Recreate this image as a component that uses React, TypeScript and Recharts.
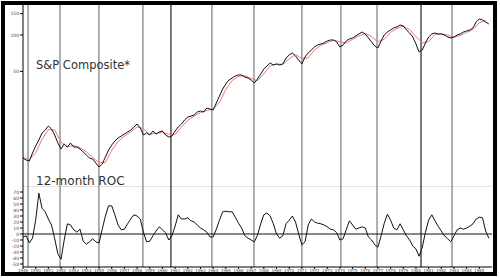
import React from 'react';
import { LineChart, Line, XAxis, YAxis, ReferenceLine } from 'recharts';

const START_YEAR = 1949;
const END_YEAR = 1986;

// S&P Composite, quarterly readings (log scale panel)
const priceIndex = [
  9.6, 9.25, 9.07, 10.56, 12.07, 13.53, 15.46, 16.37, 17.67, 16.69,
  14.89, 12.78, 11.4, 12.54, 11.84, 12.78, 11.84, 11.84, 11.4, 10.77,
  10.17, 9.6, 9.42, 8.73, 8.09, 8.57, 9.79, 11.19, 12.3, 13.28,
  14.06, 14.6, 15.17, 15.76, 16.37, 17.34, 18.36, 17.01, 14.89, 15.46,
  14.89, 16.06, 15.17, 15.76, 16.06, 14.89, 14.33, 14.6, 16.06, 17.34,
  18.36, 19.81, 20.97, 21.37, 21.79, 23.07, 23.51, 23.07, 24.9, 24.42,
  23.97, 27.39, 31.29, 35.75, 39.33, 42.44, 44.09, 45.8, 46.68, 46.68,
  44.93, 44.09, 42.44, 40.08, 43.26, 47.57, 52.33, 55.41, 58.66, 56.47,
  57.57, 56.47, 57.57, 64.53, 68.32, 70.97, 67.03, 62.11, 57.57, 65.77,
  70.97, 75.15, 79.56, 82.66, 84.25, 85.89, 89.22, 90.92, 90.92, 87.52,
  79.56, 82.66, 89.22, 92.66, 94.45, 98.12, 101.9, 105.9, 101.9, 94.45,
  87.52, 81.1, 78.06, 89.22, 100, 105.9, 110, 114.3, 116.5, 121,
  118.7, 110, 103.9, 96.26, 84.25, 72.33, 75.15, 85.89, 96.26, 101.9,
  103.9, 101.9, 101.9, 100, 96.26, 94.45, 96.26, 100, 101.9, 105.9,
  107.9, 110, 114.3, 128.1, 135.6, 133.1, 128.1, 123.3,
];

// Red moving average, read every second quarter
const movingAvg = [
  9.7, 9.3, 10.6, 13.7, 16.5, 16.4, 13.0, 11.9, 12.2, 11.7,
  10.8, 9.7, 8.8, 8.8, 11.1, 13.2, 14.6, 15.8, 17.4, 16.8,
  15.1, 15.4, 15.7, 15.1, 15.0, 17.3, 19.7, 21.4, 22.8, 23.8,
  24.4, 27.6, 35.5, 42.0, 45.5, 46.1, 43.8, 41.9, 47.7, 55.5,
  57.6, 57.2, 63.5, 68.8, 64.0, 64.8, 75.2, 82.2, 86.5, 90.4,
  88.0, 85.5, 92.1, 98.2, 103.2, 97.0, 88.0, 92.0, 105.3, 113.6,
  118.7, 110.9, 97.0, 86.0, 88.0, 100.7, 102.6, 99.4, 95.7, 99.4,
  105.2, 110.7, 126.0, 132.3,
];

// 12-month rate of change (%)
const roc12 = [
  -5, -3, -15, -7, 23, 68, 43, 37, 25, 15,
  -8, -33, -42, -10, 17, 15, 7, 3, 8, -12,
  -17, -13, -8, -13, -15, 8, 30, 47, 47, 32,
  15, 7, 8, 17, 25, 32, 30, 25, 3, -13,
  -12, -3, 5, 12, 7, 2, -10, -3, 13, 32,
  25, 25, 27, 22, 20, 15, 10, 7, 3, -5,
  -5, 8, 23, 37, 38, 37, 37, 28, 18, 10,
  -3, -7, -10, -13, -2, 17, 32, 35, 30, 17,
  0, -7, -3, 17, 23, 30, 20, 0, -18, -13,
  15, 25, 20, 18, 17, 15, 12, 8, 7, 2,
  -10, -8, 7, 22, 15, 8, 10, 12, 10, -5,
  -10, -18, -22, -3, 18, 33, 23, 10, 7, 17,
  7, -3, -10, -20, -25, -37, -22, 3, 23, 32,
  22, 13, 5, -3, -8, -13, -3, 7, 10, 8,
  10, 13, 17, 25, 28, 27, 5, -7,
];

const yearLabels = [
  1949, 1950, 1951, 1952, 1953, 1954, 1955, 1956, 1957, 1958, 1959, 1960,
  1961, 1962, 1963, 1964, 1965, 1966, 1967, 1968, 1969, 1970, 1971, 1972,
  1973, 1974, 1975, 1976, 1977, 1978, 1979, 1980, 1981, 1982, 1983, 1984, 1985,
];

const cycleLows = [1949.4, 1951.92, 1954.99, 1958.46, 1960.67, 1963.9, 1967.22, 1971.0, 1974.08, 1976.93, 1980.4, 1982.85];
const cycleLowDark = [false, false, false, false, true, false, false, false, false, false, true, false];

const priceTicks = [50, 100, 150];
const rocTicks = [-50, -40, -30, -20, -10, 0, 10, 20, 30, 40, 50, 60, 70];

const data = priceIndex.map((p, i) => ({
  t: START_YEAR + i / 4,
  price: p,
  ma: i % 2 === 0 ? movingAvg[i / 2] : null,
  roc: roc12[i],
}));

const FONT = 'DejaVu Sans, Verdana, sans-serif';

function cycleLines() {
  return cycleLows.map((x, i) => (
    <ReferenceLine
      key={'c' + i}
      x={x}
      stroke={cycleLowDark[i] ? '#222' : '#9c9c9c'}
      strokeWidth={cycleLowDark[i] ? 1.2 : 1.6}
    />
  ));
}

export default function App() {
  return (
    <div style={{ position: 'absolute', left: 0, top: 0, width: 500, height: 278, background: '#fff', fontFamily: FONT }}>
      <div style={{ position: 'absolute', left: 0, top: 5 }}>
        <LineChart width={493} height={181} data={data} margin={{ top: 0, right: 1, bottom: 0, left: 0 }} style={{ fontFamily: FONT }}>
          <XAxis type="number" dataKey="t" domain={[START_YEAR, END_YEAR]} hide allowDataOverflow />
          <YAxis
            scale="log"
            domain={[5.64, 177]}
            allowDataOverflow
            ticks={priceTicks}
            interval={0}
            width={23}
            tickSize={3}
            tickMargin={1}
            tick={{ fontSize: 4.5, fill: '#444' }}
            axisLine={{ stroke: '#000' }}
            tickLine={{ stroke: '#000' }}
          />
          {cycleLines()}
          <Line dataKey="ma" stroke="#ec7a7a" strokeWidth={1} dot={false} connectNulls isAnimationActive={false} />
          <Line dataKey="price" stroke="#111" strokeWidth={1} dot={false} isAnimationActive={false} />
        </LineChart>
      </div>
      <div style={{ position: 'absolute', left: 0, top: 186 }}>
        <LineChart width={493} height={87} data={data} margin={{ top: 0, right: 1, bottom: 0, left: 0 }} style={{ fontFamily: FONT }}>
          <XAxis
            type="number"
            dataKey="t"
            domain={[START_YEAR, END_YEAR]}
            allowDataOverflow
            ticks={yearLabels}
            interval={0}
            height={6}
            tickSize={2}
            tickMargin={0}
            tick={{ fontSize: 4, fill: '#444' }}
            axisLine={{ stroke: '#000' }}
            tickLine={{ stroke: '#000' }}
          />
          <YAxis
            domain={[-55, 80]}
            allowDataOverflow
            ticks={rocTicks}
            interval={0}
            width={23}
            tickSize={3}
            tickMargin={1}
            tick={{ fontSize: 4.5, fill: '#444' }}
            axisLine={{ stroke: '#000' }}
            tickLine={{ stroke: '#000' }}
          />
          <ReferenceLine y={80} stroke="#c8c8c8" strokeWidth={1} />
          {cycleLines()}
          <ReferenceLine y={0} stroke="#111" strokeWidth={1} />
          <Line dataKey="roc" stroke="#111" strokeWidth={1} dot={false} isAnimationActive={false} />
        </LineChart>
      </div>
      <svg width={500} height={278} style={{ position: 'absolute', left: 0, top: 0, pointerEvents: 'none' }}>
        <text x={36} y={69} fontFamily={FONT} fontSize={11.5} fill="#333">S&amp;P Composite*</text>
        <text x={36} y={184.5} fontFamily={FONT} fontSize={12} fill="#333">12-month ROC</text>
      </svg>
      <div style={{ position: 'absolute', left: 1, top: 1, width: 496, height: 275, border: '4px solid #000', boxSizing: 'border-box' }} />
    </div>
  );
}
